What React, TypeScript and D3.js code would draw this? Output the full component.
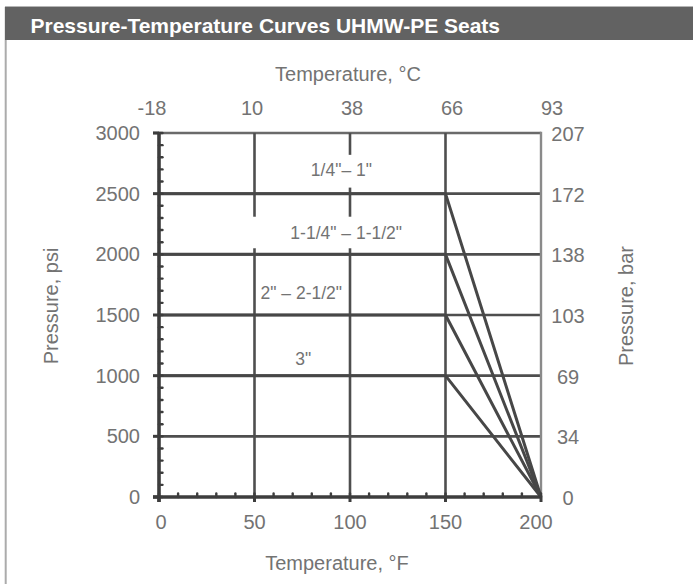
import React from 'react';
import * as d3 from 'd3';

// ---- data ----
const fahrenheitTicks = [0, 50, 100, 150, 200];
const celsiusLabels = ['-18', '10', '38', '66', '93'];
const psiTicks = [0, 500, 1000, 1500, 2000, 2500, 3000];
const barLabels = ['0', '34', '69', '103', '138', '172', '207'];
const sizeLabels = ['1/4"\u2013 1"', '1-1/4" \u2013 1-1/2"', '2" \u2013 2-1/2"', '3"'];
const ratedPressure = [2500, 2000, 1500, 1000]; // psi, held up to 150 °F
const derateStartF = 150;
const derateEndF = 200;
const labelTempF = [95.5, 98, 74.5, 75.5];
const labelPsi = [2645, 2126, 1632, 1088];
const vGridTemps = [50, 100, 150];
const vGridSegments = [
  [[0, 2050], [2310, 3000]],
  [[0, 2050], [2310, 2550], [2820, 3000]],
  [[0, 3000]],
];
const minorF = d3.range(0, 201, 10);
const minorPsi = d3.range(0, 3001, 100);

const W = 693;
const H = 584;
const FONT = '"Liberation Sans", Arial, Helvetica, sans-serif';
const TXT = '#737373';

export default function App() {
  const x = d3.scaleLinear().domain([0, 200]).range([159, 541]);
  const y = d3.scaleLinear().domain([0, 3000]).range([497, 133]);
  const xTop = d3.scalePoint<string>().domain(celsiusLabels).range([x(0) - 7, x(200) + 11]);

  const line = d3
    .line<[number, number]>()
    .x((d) => x(d[0]))
    .y((d) => y(d[1]));

  const curves = ratedPressure.map((p) => [
    [0, p],
    [derateStartF, p],
    [derateEndF, 0],
  ] as [number, number][]);

  return (
    <svg
      width={W}
      height={H}
      viewBox={`0 0 ${W} ${H}`}
      style={{ position: 'absolute', left: 0, top: 0, background: '#fff' }}
      fontFamily={FONT}
    >
      {/* frame & title bar */}
      <line x1={5.7} y1={7} x2={5.7} y2={H} stroke="#ababab" strokeWidth={2} />
      <line x1={5} y1={6.5} x2={W} y2={6.5} stroke="#b5b5b5" strokeWidth={1} />
      <rect x={5} y={7} width={W - 5} height={33} fill="#626262" />
      <text x={30.5} y={33} fill="#fff" fontWeight="bold" fontSize={21}>
        Pressure-Temperature Curves UHMW-PE Seats
      </text>

      {/* horizontal grid */}
      {psiTicks.slice(1, -1).map((p) => (
        <line key={'h' + p} x1={x(0)} x2={x(200)} y1={y(p)} y2={y(p)} stroke="#4e4e4e" strokeWidth={2.6} />
      ))}
      {/* top border */}
      <line x1={x(0) - 6} x2={x(200)} y1={y(3000)} y2={y(3000)} stroke="#6a6a6a" strokeWidth={2.6} />
      {/* right border */}
      <line x1={x(200)} x2={x(200)} y1={y(3000) - 1.3} y2={y(0)} stroke="#8a8a8a" strokeWidth={2.4} />

      {/* vertical grid */}
      {vGridTemps.map((t, i) =>
        vGridSegments[i].map((s, j) => (
          <line key={'v' + t + '-' + j} x1={x(t)} x2={x(t)} y1={y(s[0])} y2={y(s[1])} stroke="#4e4e4e" strokeWidth={2.6} />
        ))
      )}

      {/* curves */}
      {curves.map((c, i) => (
        <path key={'c' + i} d={line(c) || ''} fill="none" stroke="#474747" strokeWidth={3} strokeLinejoin="round" />
      ))}

      {/* left axis */}
      <line x1={x(0)} x2={x(0)} y1={y(3000) - 1} y2={y(0) + 5} stroke="#3d3d3d" strokeWidth={3.6} />
      {psiTicks.map((p) => (
        <line key={'lt' + p} x1={x(0) - 6} x2={x(0)} y1={y(p)} y2={y(p)} stroke="#3d3d3d" strokeWidth={3} />
      ))}
      {minorPsi.map((p) => (
        <line key={'lm' + p} x1={x(0)} x2={x(0) + 3.5} y1={y(p)} y2={y(p)} stroke="#3d3d3d" strokeWidth={2.4} strokeLinecap="round" />
      ))}

      {/* bottom axis */}
      <line x1={x(0) - 6} x2={x(200)} y1={y(0)} y2={y(0)} stroke="#3d3d3d" strokeWidth={3.6} />
      {fahrenheitTicks.map((t) => (
        <line key={'bt' + t} x1={x(t)} x2={x(t)} y1={y(0)} y2={y(0) + 5} stroke="#3d3d3d" strokeWidth={3} />
      ))}
      {minorF.map((t) => (
        <line key={'bm' + t} x1={x(t)} x2={x(t)} y1={y(0) - 3.5} y2={y(0)} stroke="#3d3d3d" strokeWidth={2.4} strokeLinecap="round" />
      ))}

      {/* tick labels */}
      {psiTicks.map((p) => (
        <text key={'pl' + p} x={x(0) - 19} y={y(p)} textAnchor="end" dominantBaseline="central" fontSize={20} fill={TXT}>
          {p}
        </text>
      ))}
      {psiTicks.map((p, i) => (
        <text key={'bl' + p} x={x(200) + 27} y={y(p) + 1} textAnchor="middle" dominantBaseline="central" fontSize={20} fill={TXT}>
          {barLabels[i]}
        </text>
      ))}
      {fahrenheitTicks.map((t) => (
        <text key={'fl' + t} x={x(t) + (t === 200 ? -5 : t === 0 ? 2 : 0)} y={y(0) + 25} textAnchor="middle" dominantBaseline="central" fontSize={20} fill={TXT}>
          {t}
        </text>
      ))}
      {celsiusLabels.map((c) => (
        <text key={'cl' + c} x={xTop(c)} y={108} textAnchor="middle" dominantBaseline="central" fontSize={20} fill={TXT}>
          {c}
        </text>
      ))}

      {/* axis titles */}
      <text x={348} y={81} textAnchor="middle" fontSize={20} fill={TXT}>
        Temperature, °C
      </text>
      <text x={337} y={569.5} textAnchor="middle" fontSize={20} fill={TXT}>
        Temperature, °F
      </text>
      <text transform={`translate(58,306) rotate(-90)`} textAnchor="middle" fontSize={20} fill={TXT}>
        Pressure, psi
      </text>
      <text transform={`translate(633,306) rotate(-90)`} textAnchor="middle" fontSize={20} fill={TXT}>
        Pressure, bar
      </text>

      {/* size labels */}
      {sizeLabels.map((s, i) => (
        <text key={'s' + i} x={x(labelTempF[i])} y={y(labelPsi[i])} textAnchor="middle" fontSize={17.5} fill={TXT}>
          {s}
        </text>
      ))}
    </svg>
  );
}
